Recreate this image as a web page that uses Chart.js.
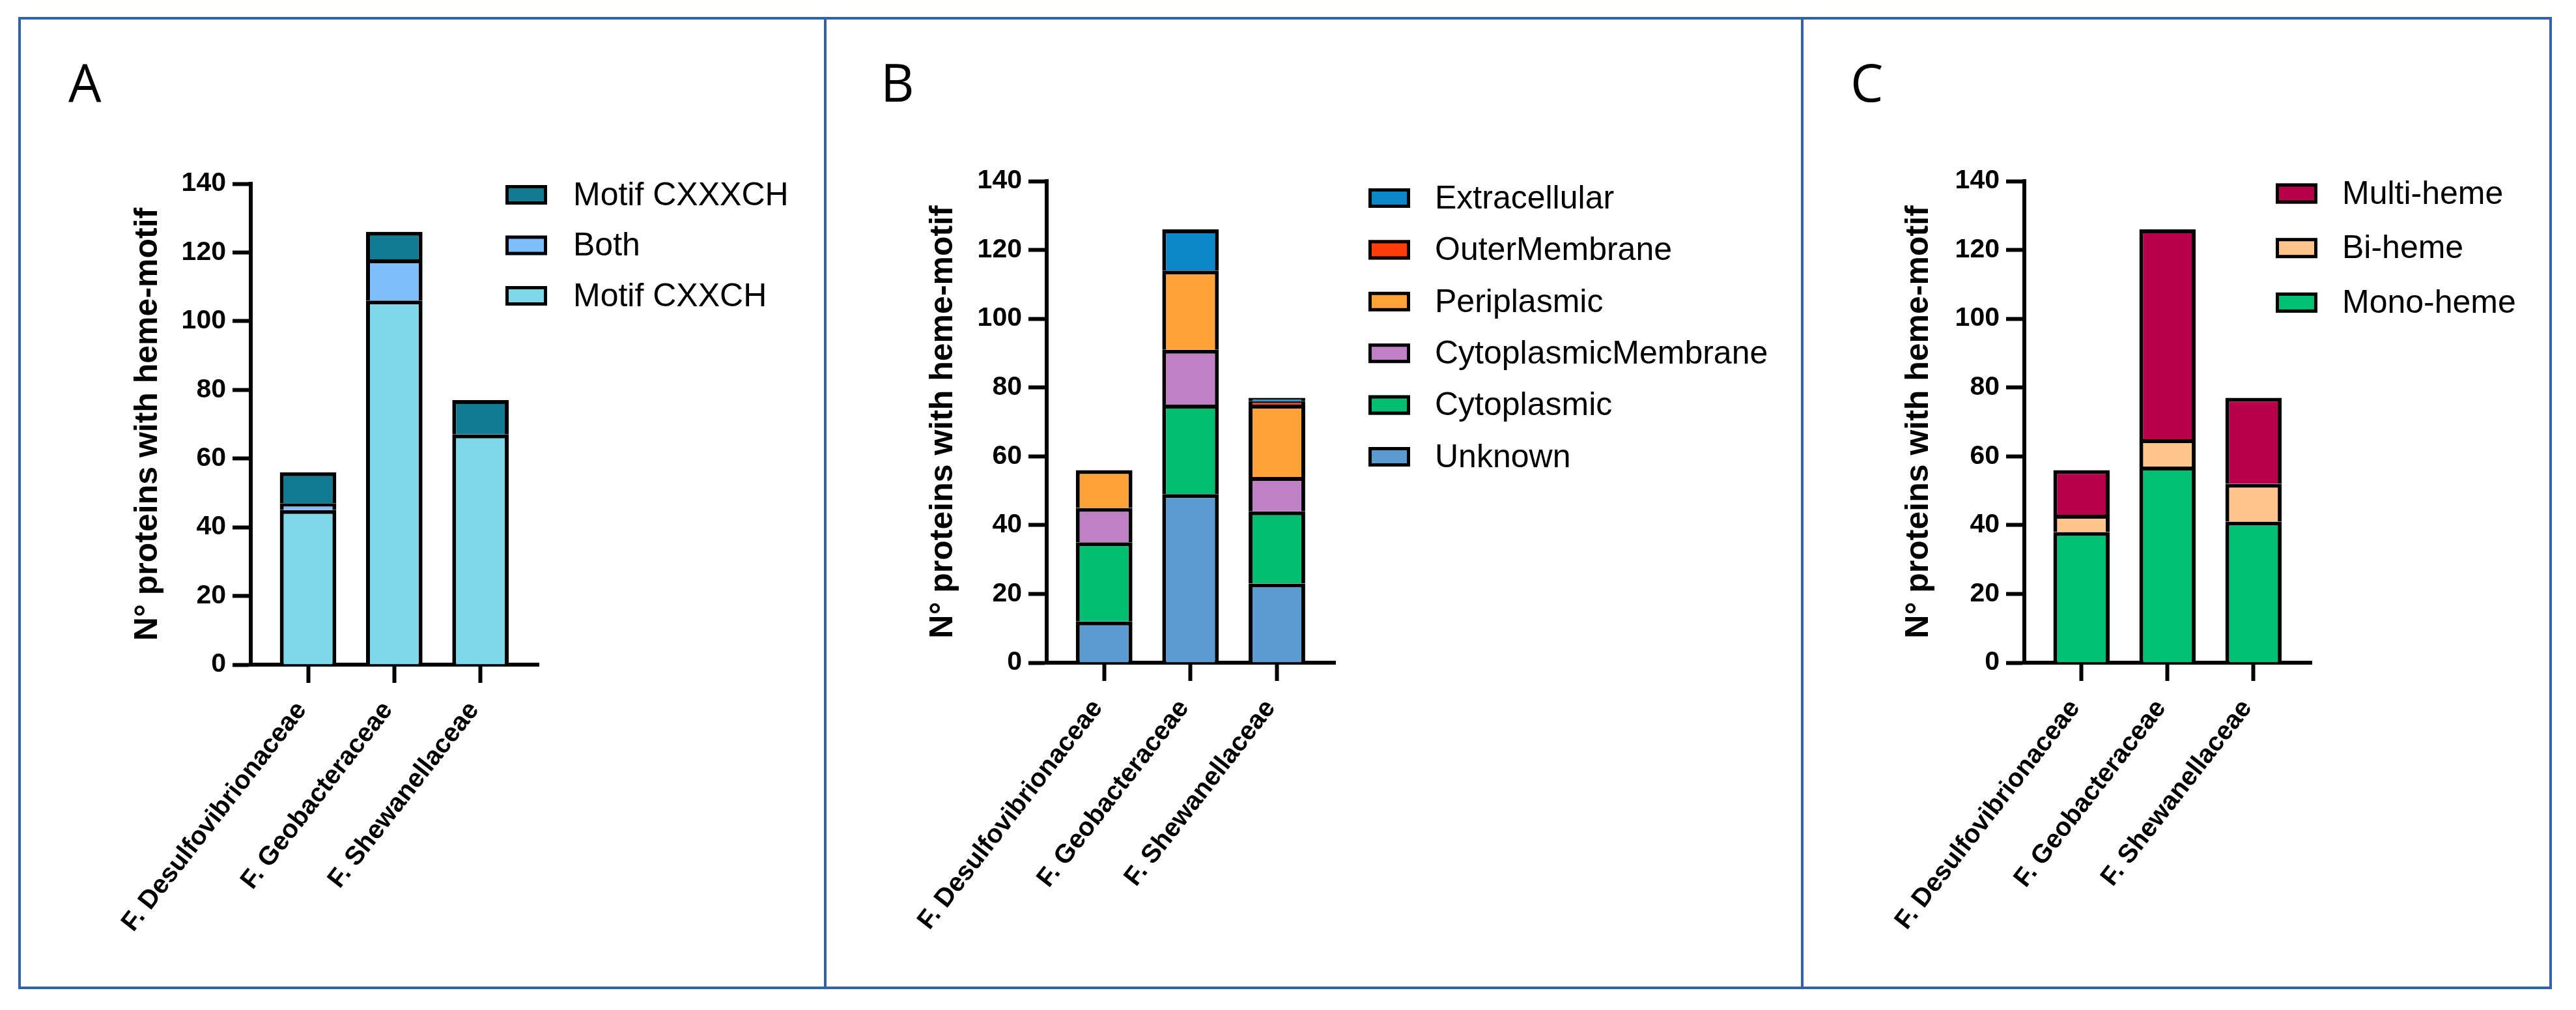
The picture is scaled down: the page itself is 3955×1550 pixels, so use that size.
<!DOCTYPE html>
<html>
<head>
<meta charset="utf-8">
<script src="https://cdn.jsdelivr.net/npm/chart.js@4.4.1/dist/chart.umd.min.js"></script>
<style>
  html, body { margin: 0; padding: 0; background: #fff; }
  #page { position: relative; width: 3955px; height: 1550px; background: #fff; overflow: hidden; }
  canvas { position: absolute; top: 0; }
  .frame { position: absolute; border: 4px solid #3462A8; box-sizing: border-box; pointer-events: none; }
  .letter { position: absolute; font-family: "Open Sans", "Liberation Sans", sans-serif; font-size: 80px; line-height: 80px; color: #000; }
</style>
</head>
<body>
<div id="page">
  <canvas id="cA" width="1268" height="1550" style="left:0px"></canvas>
  <canvas id="cB" width="1500" height="1550" style="left:1268px"></canvas>
  <canvas id="cC" width="1187" height="1550" style="left:2768px"></canvas>
  <div class="frame" style="left:28px; top:26px; width:1241px; height:1492px;"></div>
  <div class="frame" style="left:1265px; top:26px; width:1504px; height:1492px;"></div>
  <div class="frame" style="left:2765px; top:26px; width:1153px; height:1492px;"></div>
  <div class="letter" style="left:105px; top:85px;">A</div>
  <div class="letter" style="left:1352px; top:85px;">B</div>
  <div class="letter" style="left:2841px; top:85px;">C</div>
</div>
<script>
// ---- data ----
const categories = ['F. Desulfovibrionaceae', 'F. Geobacteraceae', 'F. Shewanellaceae'];
const yTicks = [0, 20, 40, 60, 80, 100, 120, 140];
const yTitle = 'N\u00B0 proteins with heme-motif';

// Panel A: heme-binding motif
const motifCXXCH  = [45, 106, 67];
const motifBoth   = [2, 12, 0];
const motifCXXXCH = [9, 8, 10];

// Panel B: subcellular localization
const locUnknown        = [12, 49, 23];
const locCytoplasmic    = [23, 26, 21];
const locCytoMembrane   = [10, 16, 10];
const locPeriplasmic    = [11, 23, 21];
const locOuterMembrane  = [0, 0, 1];
const locExtracellular  = [0, 12, 1];

// Panel C: number of hemes
const monoHeme  = [38, 57, 41];
const biHeme    = [5, 8, 11];
const multiHeme = [13, 61, 25];

// ---- helpers ----
const FONT = '"Liberation Sans", Arial, sans-serif';
function pts(arr) { return arr.map((v, i) => ({ x: i, y: v })); }
function ds(label, arr, color) {
  return {
    label: label, data: pts(arr), backgroundColor: color,
    borderColor: '#000', borderWidth: 6, stack: 's'
  };
}

const sideLegend = {
  id: 'sideLegend',
  afterDraw(chart, args, o) {
    const ctx = chart.ctx;
    const items = chart.data.datasets.slice().reverse();
    ctx.save();
    ctx.font = '50px ' + FONT;
    ctx.textBaseline = 'middle';
    ctx.textAlign = 'left';
    items.forEach((d, i) => {
      const cy = o.y + i * o.gap;
      const bx = o.x, by = cy - o.boxH / 2;
      ctx.fillStyle = d.backgroundColor;
      ctx.fillRect(bx, by, o.boxW, o.boxH);
      ctx.lineWidth = 5;
      ctx.strokeStyle = '#000';
      ctx.strokeRect(bx + 2.5, by + 2.5, o.boxW - 5, o.boxH - 5);
      ctx.fillStyle = '#000';
      ctx.fillText(d.label, o.textX, cy + 2);
    });
    ctx.restore();
  }
};

function makeChart(id, datasets, geo) {
  const canvas = document.getElementById(id);
  return new Chart(canvas, {
    type: 'bar',
    data: { datasets: datasets },
    plugins: [sideLegend],
    options: {
      responsive: false,
      animation: false,
      devicePixelRatio: 1,
      layout: { padding: { left: 0, top: geo.top, right: canvas.width - geo.right, bottom: 0 } },
      datasets: { bar: { categoryPercentage: 1, barPercentage: 0.655 } },
      plugins: {
        legend: { display: false },
        tooltip: { enabled: false },
        sideLegend: geo.legend
      },
      scales: {
        x: {
          type: 'linear',
          stacked: true,
          offset: false,
          bounds: 'data',
          min: -0.665, max: 2.675,
          afterBuildTicks: (s) => { s.ticks = categories.map((c, i) => ({ value: i })); },
          afterFit: (s) => { s.height = 1550 - geo.bottom; },
          ticks: {
            callback: (v) => categories[v],
            autoSkip: false, minRotation: 52, maxRotation: 52,
            color: '#000', padding: 20, labelOffset: -10,
            font: { family: FONT, size: 40, weight: 'bold' }
          },
          grid: { display: true, offset: false, drawOnChartArea: false, drawTicks: true, tickLength: 28, tickWidth: 6, tickColor: '#000' },
          border: { display: true, color: '#000', width: 6 }
        },
        y: {
          type: 'linear',
          stacked: true,
          min: 0, max: 140,
          afterBuildTicks: (s) => { s.ticks = yTicks.map(v => ({ value: v })); },
          afterFit: (s) => { s.width = geo.left; },
          ticks: {
            color: '#000', padding: 10,
            font: { family: FONT, size: 41, weight: 'bold' }
          },
          title: {
            display: true, text: yTitle, color: '#000',
            padding: { top: geo.titleX - 30, bottom: 0 },
            font: { family: FONT, size: 50, weight: 'bold' }
          },
          grid: { display: true, drawOnChartArea: false, drawTicks: true, tickLength: 28, tickWidth: 6, tickColor: '#000' },
          border: { display: true, color: '#000', width: 6 }
        }
      }
    }
  });
}

makeChart('cA', [
  ds('Motif CXXCH', motifCXXCH, '#7DD9E9'),
  ds('Both', motifBoth, '#7EBEFA'),
  ds('Motif CXXXCH', motifCXXXCH, '#127B94')
], { left: 385, right: 827, top: 282, bottom: 1020, titleX: 227,
     legend: { x: 776, y: 299, gap: 77.5, boxW: 64, boxH: 30, textX: 880 } });

makeChart('cB', [
  ds('Unknown', locUnknown, '#5B9BD0'),
  ds('Cytoplasmic', locCytoplasmic, '#00BF70'),
  ds('CytoplasmicMembrane', locCytoMembrane, '#C080C6'),
  ds('Periplasmic', locPeriplasmic, '#FFA238'),
  ds('OuterMembrane', locOuterMembrane, '#FF3D0A'),
  ds('Extracellular', locExtracellular, '#0C87C8')
], { left: 339, right: 782, top: 278, bottom: 1017, titleX: 180,
     legend: { x: 833, y: 304, gap: 79.4, boxW: 64, boxH: 30, textX: 935 } });

makeChart('cC', [
  ds('Mono-heme', monoHeme, '#00C074'),
  ds('Bi-heme', biHeme, '#FFC58A'),
  ds('Multi-heme', multiHeme, '#B9004A')
], { left: 340, right: 781, top: 278, bottom: 1017, titleX: 178,
     legend: { x: 726, y: 297, gap: 83.7, boxW: 64, boxH: 31, textX: 828 } });
</script>
</body>
</html>
